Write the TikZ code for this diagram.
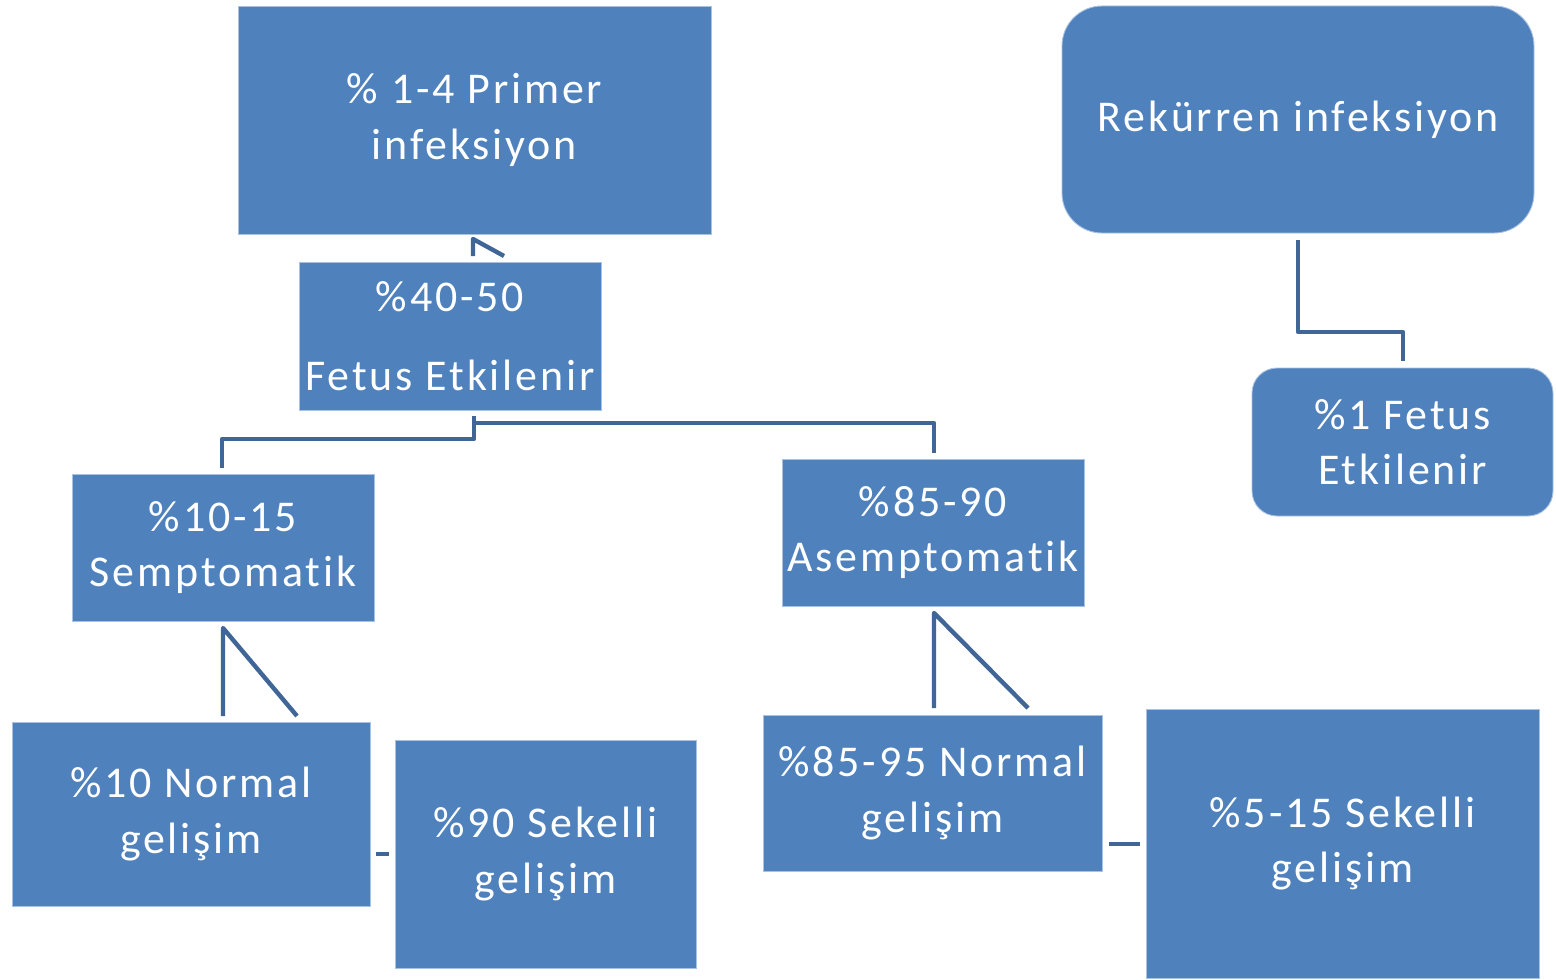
\documentclass[tikz,border=0pt]{standalone}
\usepackage{fontspec}
\setmainfont{Carlito}[LetterSpace=6.5,Ligatures=NoCommon]
\usetikzlibrary{calc}
\definecolor{boxblue}{HTML}{4F81BD}
\definecolor{lineblue}{HTML}{3F6696}
\definecolor{edgeblue}{HTML}{A9C2E2}
\tikzset{
  bx/.style 2 args={rectangle, fill=boxblue, draw=edgeblue, line width=0.5pt,
    minimum width=#1*0.02cm, minimum height=#2*0.02cm, inner sep=0pt,
    text=white, align=center, font=\fontsize{25}{31.5}\selectfont},
  conn/.style={draw=lineblue, line width=2.5pt, line join=round},
}
\begin{document}
\begin{tikzpicture}[x=0.02cm,y=-0.02cm]
\useasboundingbox (0,0) rectangle (1556,980);
% nodes
\node[bx={473}{228}] (prim) at (474.5,120) {\% 1-4 Primer\\infeksiyon};
\node[bx={472}{227}, rounded corners=0.8cm] (rek) at (1298,119.5) {Rekürren infeksiyon};
\node[bx={302}{148}] (fet) at (450,336) {\%40-50\\[0.53em]Fetus Etkilenir};
\node[bx={301}{148}, rounded corners=0.5cm] (one) at (1402.5,442) {\%1 Fetus\\Etkilenir};
\node[bx={302}{147}] (sem) at (223,547.5) {\%10-15\\Semptomatik};
\node[bx={302}{147}] (asem) at (933,532.5) {\%85-90\\Asemptomatik};
\node[bx={358}{184}] (norm1) at (191,814) {\%10 Normal\\gelişim};
\node[bx={301}{228}] (sek1) at (545.5,854) {\%90 Sekelli\\gelişim};
\node[bx={339}{156}] (norm2) at (932.5,793) {\%85-95 Normal\\gelişim};
\node[bx={393}{269}] (sek2) at (1342.5,843.5) {\%5-15 Sekelli\\gelişim};
% connector end points
\coordinate (a1) at (473,256);
\coordinate (a2) at (473,239);
\coordinate (a3) at (504,256);
\coordinate (b0) at (474,416);
\coordinate (b1) at (474,439);
\coordinate (b2) at (222,439);
\coordinate (b3) at (222,468);
\coordinate (b4) at (474,423);
\coordinate (b5) at (934,423);
\coordinate (b6) at (934,453);
\coordinate (s1) at (223,716);
\coordinate (s2) at (223,628);
\coordinate (s3) at (297,716);
\coordinate (t1) at (934,708);
\coordinate (t2) at (934,613);
\coordinate (t3) at (1028,708);
\coordinate (d1) at (376,854);
\coordinate (d2) at (389,854);
\coordinate (e1) at (1109,844);
\coordinate (e2) at (1140,844);
\coordinate (r1) at (1298,240);
\coordinate (r2) at (1298,332);
\coordinate (r3) at (1403,332);
\coordinate (r4) at (1403,361);
% connectors
\draw[conn] (a1) -- (a2) -- (a3);
\draw[conn] (b0) -- (b1) -- (b2) -- (b3);
\draw[conn] (b4) -- (b5) -- (b6);
\draw[conn] (s1) -- (s2) -- (s3);
\draw[conn] (t1) -- (t2) -- (t3);
\draw[conn] (d1) -- (d2);
\draw[conn] (e1) -- (e2);
\draw[conn] (r1) -- (r2) -- (r3) -- (r4);
\end{tikzpicture}
\end{document}
